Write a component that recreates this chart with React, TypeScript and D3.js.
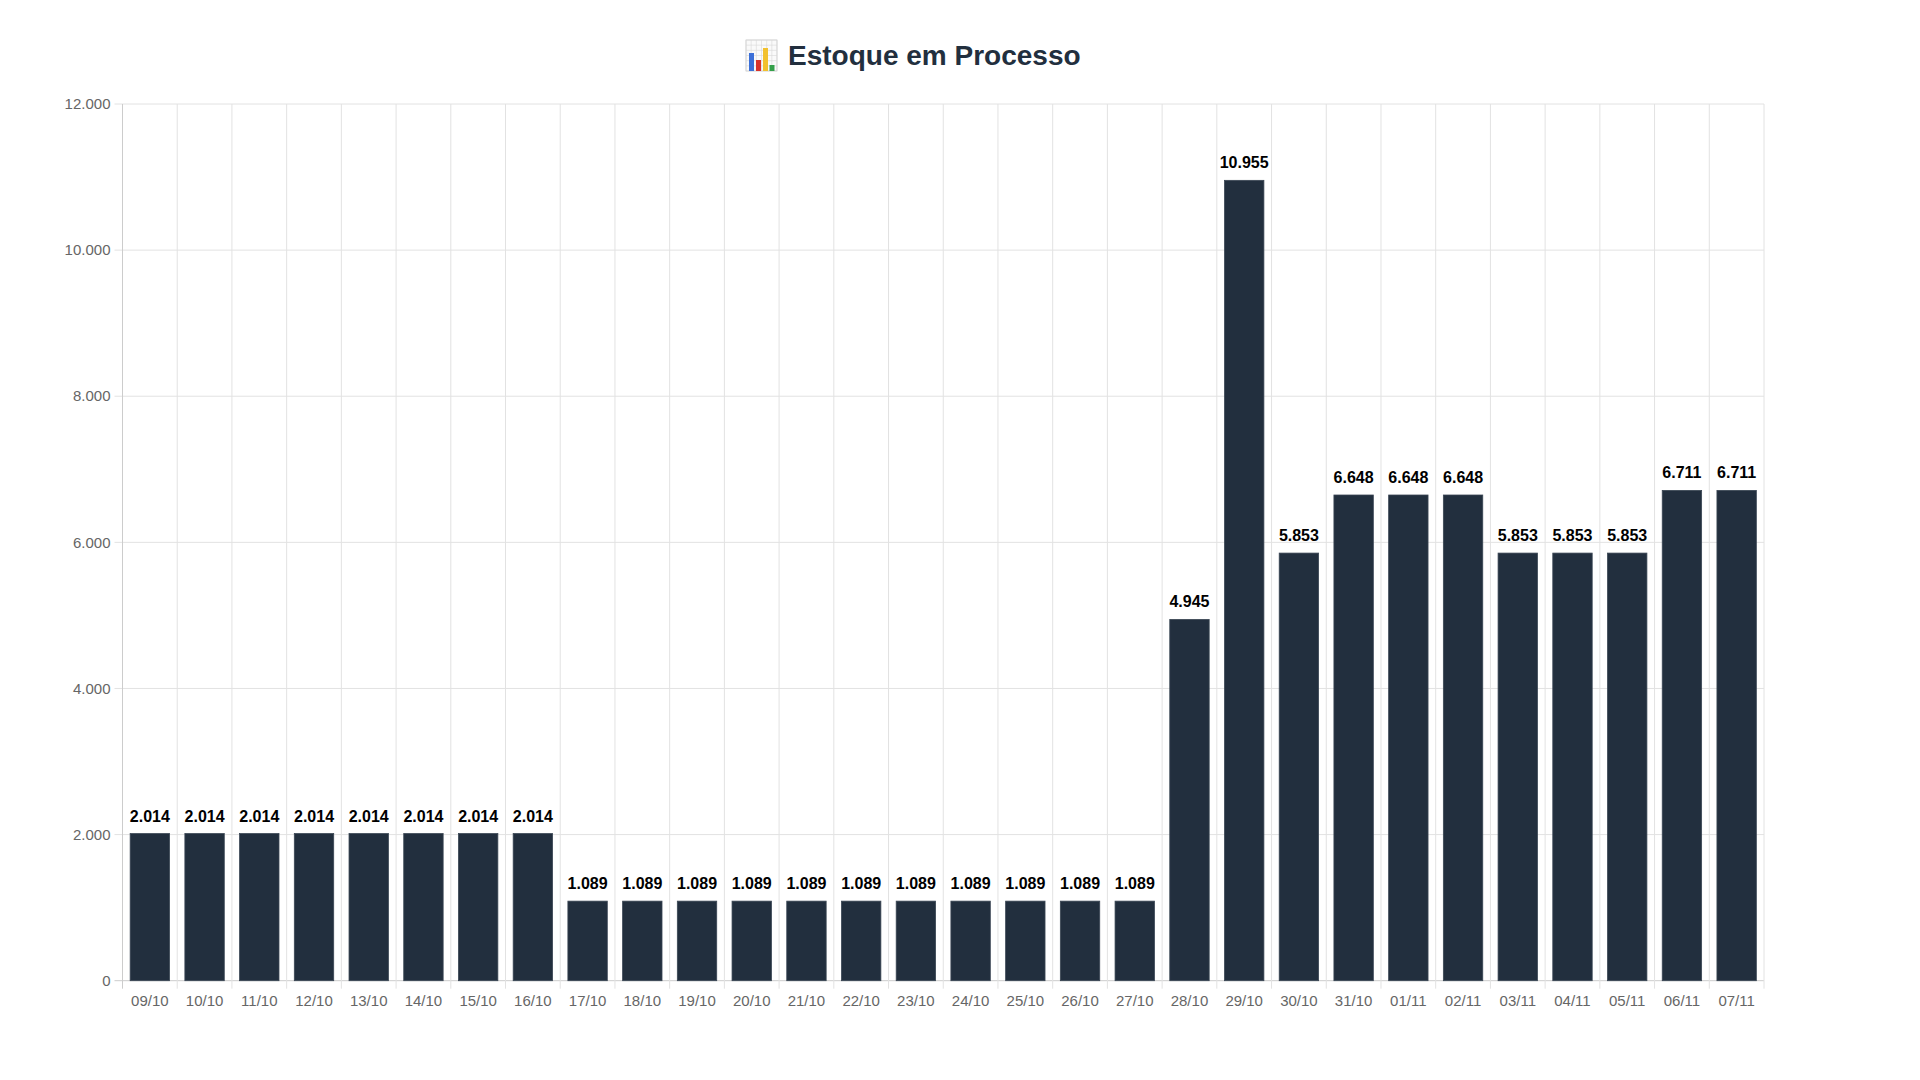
import React from 'react';
import * as d3 from 'd3';

const labels = [
  '09/10', '10/10', '11/10', '12/10', '13/10', '14/10', '15/10', '16/10',
  '17/10', '18/10', '19/10', '20/10', '21/10', '22/10', '23/10', '24/10',
  '25/10', '26/10', '27/10', '28/10', '29/10', '30/10', '31/10', '01/11',
  '02/11', '03/11', '04/11', '05/11', '06/11', '07/11',
];

const values = [
  2014, 2014, 2014, 2014, 2014, 2014, 2014, 2014,
  1089, 1089, 1089, 1089, 1089, 1089, 1089, 1089,
  1089, 1089, 1089, 4945, 10955, 5853, 6648, 6648,
  6648, 5853, 5853, 5853, 6711, 6711,
];

const yTicks = [0, 2000, 4000, 6000, 8000, 10000, 12000];

const title = 'Estoque em Processo';

const W = 1920;
const H = 1080;
const left = 122.5;
const right = 1764;
const top = 104;
const bottom = 980.7;

const FONT = "'Liberation Sans', Arial, Helvetica, sans-serif";
const BAR = '#222f3e';

const ptBR = d3.formatLocale({ decimal: ',', thousands: '.', grouping: [3], currency: ['R$', ''] });
const fmt = ptBR.format(',d');

// little "📊" icon drawn by hand, no emoji font available
const ChartIcon: React.FC<{ x: number; y: number }> = ({ x, y }) => {
  const s = 31;
  const grid = d3.range(0, s + 1, s / 6);
  const iconBars = [
    { x: 3, w: 5, top: 13, c: '#3b6fd8' },
    { x: 10, w: 5, top: 20, c: '#d8322b' },
    { x: 17, w: 5, top: 8, c: '#f2c12e' },
    { x: 23.5, w: 5, top: 25, c: '#34a04a' },
  ];
  return (
    <g transform={`translate(${x},${y})`}>
      <rect x={0} y={0} width={s} height={s} fill="#fafafa" stroke="#cfcfcf" strokeWidth={0.8} />
      {grid.map((g, i) => (
        <g key={i}>
          <line x1={g} x2={g} y1={0} y2={s} stroke="#d8d8d8" strokeWidth={0.6} />
          <line x1={0} x2={s} y1={g} y2={g} stroke="#d8d8d8" strokeWidth={0.6} />
        </g>
      ))}
      {iconBars.map((b, i) => (
        <rect key={i} x={b.x} y={b.top} width={b.w} height={s - b.top} fill={b.c} />
      ))}
    </g>
  );
};

const App: React.FC = () => {
  const x = d3.scaleBand<string>().domain(labels).range([left, right]).padding(0);
  const y = d3.scaleLinear().domain([0, 12000]).range([bottom, top]);
  const bw = x.bandwidth() * 0.72;
  const edges = d3.range(labels.length + 1).map((i) => left + i * x.step());

  return (
    <svg width={W} height={H} style={{ position: 'absolute', left: 0, top: 0, background: '#fff' }} fontFamily={FONT}>
      <rect width={W} height={H} fill="#fff" />

      {/* title */}
      <ChartIcon x={746} y={40} />
      <text x={788} y={65} fontSize={28} fontWeight="bold" fill={BAR}>{title}</text>

      {/* grid */}
      {yTicks.map((t) => (
        <line key={'h' + t} x1={left - 8} x2={right} y1={y(t)} y2={y(t)}
          stroke={t === 0 ? '#cccccc' : '#e2e2e2'} strokeWidth={1} />
      ))}
      {edges.map((e, i) => (
        <line key={'v' + i} x1={e} x2={e} y1={top} y2={bottom + 8}
          stroke={i === 0 ? '#cccccc' : '#e2e2e2'} strokeWidth={1} />
      ))}

      {/* y labels */}
      {yTicks.map((t) => (
        <text key={'yl' + t} x={110.5} y={y(t)} dy="0.35em" textAnchor="end" fontSize={15} fill="#666">
          {fmt(t)}
        </text>
      ))}

      {/* x labels */}
      {labels.map((l) => (
        <text key={'xl' + l} x={(x(l) ?? 0) + x.bandwidth() / 2} y={1005.5} textAnchor="middle" fontSize={15} fill="#666">
          {l}
        </text>
      ))}

      {/* bars */}
      {values.map((v, i) => {
        const cx = (x(labels[i]) ?? 0) + x.bandwidth() / 2;
        return (
          <g key={'b' + i}>
            <rect x={cx - bw / 2} y={y(v)} width={bw} height={bottom - y(v)}
              fill={BAR} stroke="#3a4654" strokeWidth={0.8} />
            <text x={cx} y={y(v) - 12} textAnchor="middle" fontSize={16} fontWeight="bold" fill="#000">
              {fmt(v)}
            </text>
          </g>
        );
      })}
    </svg>
  );
};

export default App;
